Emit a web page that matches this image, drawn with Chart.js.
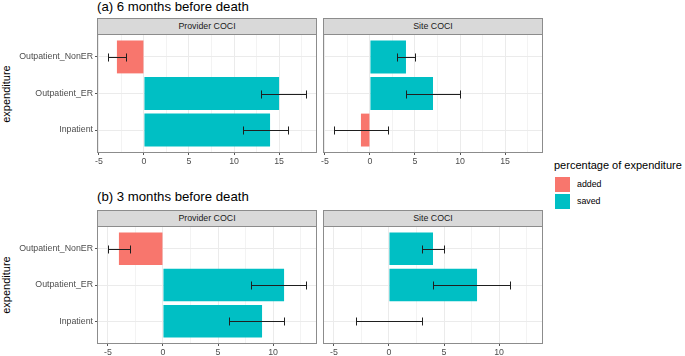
<!DOCTYPE html>
<html><head><meta charset="utf-8">
<script src="https://cdn.jsdelivr.net/npm/chart.js@4/dist/chart.umd.min.js"></script>
<style>
body{margin:0;width:685px;height:356px;position:relative;background:#fff;font-family:"Liberation Sans",Arial,Helvetica,sans-serif;overflow:hidden}
canvas{position:absolute}
.t{position:absolute;white-space:nowrap}
.title{font-size:13.2px;color:#000;line-height:16px}
.strip{position:absolute;background:#D9D9D9;border:1px solid #8c8c8c;box-sizing:border-box;font-size:8.8px;color:#1A1A1A;text-align:center;line-height:15px}
.ytitle{font-size:11px;color:#000;transform:rotate(-90deg);transform-origin:center center;width:80px;text-align:center;line-height:12px}
.key{position:absolute;width:17px;height:17px;box-sizing:border-box;border:1px solid #fff}
.lab{font-size:8.8px;color:#000;line-height:11px}
</style></head>
<body>
<div class="t title" style="left:97px;top:-1px">(a) 6 months before death</div>
<div class="t title" style="left:97px;top:189px">(b) 3 months before death</div>
<div class="strip" style="left:97px;top:18px;width:220px;height:17px">Provider COCI</div>
<div class="strip" style="left:323px;top:18px;width:220px;height:17px">Site COCI</div>
<div class="strip" style="left:97px;top:210px;width:220px;height:17px">Provider COCI</div>
<div class="strip" style="left:323px;top:210px;width:220px;height:17px">Site COCI</div>
<div class="t ytitle" style="left:-34px;top:88px">expenditure</div>
<div class="t ytitle" style="left:-34px;top:279px">expenditure</div>
<div class="t" style="left:554px;top:159px;font-size:11px;color:#000;line-height:13px" id="legTitle"></div>
<div class="key" style="left:554px;top:176px;background:#F8766D"></div>
<div class="key" style="left:554px;top:193px;background:#00BFC4"></div>
<div class="t lab" style="left:577px;top:179px" id="leg0"></div>
<div class="t lab" style="left:577px;top:196px" id="leg1"></div>

<canvas id="c1" width="320" height="137" style="left:0;top:33px;width:320px;height:137px"></canvas>
<canvas id="c2" width="232" height="137" style="left:314px;top:33px;width:232px;height:137px"></canvas>
<canvas id="c3" width="320" height="131" style="left:0;top:225px;width:320px;height:131px"></canvas>
<canvas id="c4" width="232" height="131" style="left:314px;top:225px;width:232px;height:131px"></canvas>

<script>
// ---- data (categories listed bottom to top) ----
const categories = ["Inpatient", "Outpatient_ER", "Outpatient_NonER"];
const catPos = [1, 2, 3];

const a6ProviderValues = [14, 15, -3];
const a6ProviderLower  = [11, 13, -4];
const a6ProviderUpper  = [16, 18, -2];

const a6SiteValues = [-1, 7, 4];
const a6SiteLower  = [-4, 4, 3];
const a6SiteUpper  = [2, 10, 5];

const b3ProviderValues = [9, 11, -4];
const b3ProviderLower  = [6, 8, -5];
const b3ProviderUpper  = [11, 13, -3];

const b3SiteValues = [0, 8, 4];
const b3SiteLower  = [-3, 4, 3];
const b3SiteUpper  = [3, 11, 5];

const xRangeA = [-5.1, 19.1];
const xRangeB = [-5.9, 13.9];
const legendTitle = "percentage of expenditure";
const legendLabels = ["added", "saved"];
const colorAdded = "#F8766D", colorSaved = "#00BFC4";

document.getElementById('legTitle').textContent = legendTitle;
document.getElementById('leg0').textContent = legendLabels[0];
document.getElementById('leg1').textContent = legendLabels[1];

const panelPlugin = {
  id: 'panel',
  afterDatasetsDraw(chart) {
    const {ctx, chartArea: a, scales: {x, y}} = chart;
    const ds = chart.data.datasets[0];
    ctx.save();
    ctx.strokeStyle = '#1f1f1f';
    ctx.lineWidth = 1;
    const half = Math.abs(y.getPixelForValue(1.11) - y.getPixelForValue(1));
    ds.errLo.forEach((lo, i) => {
      const py = Math.round(y.getPixelForValue(ds.data[i].y)) + 0.5;
      const x1 = Math.round(x.getPixelForValue(lo)) + 0.5;
      const x2 = Math.round(x.getPixelForValue(ds.errHi[i])) + 0.5;
      ctx.beginPath();
      ctx.moveTo(x1, py); ctx.lineTo(x2, py);
      ctx.moveTo(x1, py - half); ctx.lineTo(x1, py + half);
      ctx.moveTo(x2, py - half); ctx.lineTo(x2, py + half);
      ctx.stroke();
    });
    ctx.strokeStyle = '#8c8c8c';
    const l = Math.round(a.left), r = Math.round(a.right), t = Math.round(a.top), b = Math.round(a.bottom);
    ctx.strokeRect(l - 0.5, t - 0.5, r - l + 1, b - t + 1);
    ctx.restore();
  }
};

function isMult(v, s) { return Math.abs(v / s - Math.round(v / s)) < 1e-6; }

function makeChart(id, values, lower, upper, xr, showY, pad, xHeight) {
  return new Chart(document.getElementById(id), {
    type: 'bar',
    data: {
      datasets: [{
        data: values.map((v, i) => ({x: v, y: catPos[i]})),
        backgroundColor: values.map(v => v < 0 ? colorAdded : colorSaved),
        borderWidth: 0,
        categoryPercentage: 1,
        barPercentage: 0.9,
        errLo: lower,
        errHi: upper
      }]
    },
    options: {
      indexAxis: 'y',
      responsive: false,
      animation: false,
      devicePixelRatio: 1,
      layout: {padding: pad},
      plugins: {legend: {display: false}, tooltip: {enabled: false}},
      scales: {
        x: {
          type: 'linear', min: xr[0], max: xr[1], offset: false,
          border: {display: false},
          afterBuildTicks: s => { s.ticks = s.ticks.filter(t => isMult(t.value, 2.5)); },
          afterFit: s => { s.height = xHeight; s.paddingLeft = 0; s.paddingRight = 0; },
          ticks: {
            stepSize: 2.5, autoSkip: false, maxRotation: 0, padding: 1, includeBounds: false,
            color: '#4D4D4D', font: {family: '"Liberation Sans", Arial, sans-serif', size: 8.8},
            callback: v => isMult(v, 5) ? String(Math.round(v)) : ''
          },
          grid: {
            offset: false,
            color: c => (c.tick && isMult(c.tick.value, 5)) ? '#EBEBEB' : '#F3F3F3',
            tickColor: c => (c.tick && isMult(c.tick.value, 5)) ? '#555555' : 'rgba(0,0,0,0)',
            tickLength: 3, lineWidth: 1
          }
        },
        y: {
          type: 'linear', min: 0.4, max: 3.6, offset: false,
          border: {display: false},
          afterBuildTicks: s => { s.ticks = catPos.map(p => ({value: p})); },
          afterFit: s => { s.width = showY ? 98 : 0; s.paddingTop = 0; s.paddingBottom = 0; },
          ticks: {
            display: showY, autoSkip: false, padding: 2, includeBounds: false,
            color: '#4D4D4D', font: {family: '"Liberation Sans", Arial, sans-serif', size: 8.8},
            callback: v => categories[Math.round(v) - 1] || ''
          },
          grid: {offset: false, color: '#EBEBEB', tickColor: '#555555', tickLength: 3, drawTicks: showY, lineWidth: 1}
        }
      }
    },
    plugins: [panelPlugin]
  });
}

makeChart('c1', a6ProviderValues, a6ProviderLower, a6ProviderUpper, xRangeA, true, {top: 2, right: 4, left: 0, bottom: 0}, 18);
makeChart('c2', a6SiteValues, a6SiteLower, a6SiteUpper, xRangeA, false, {top: 2, right: 4, left: 10, bottom: 0}, 18);
makeChart('c3', b3ProviderValues, b3ProviderLower, b3ProviderUpper, xRangeB, true, {top: 2, right: 4, left: 0, bottom: 0}, 13);
makeChart('c4', b3SiteValues, b3SiteLower, b3SiteUpper, xRangeB, false, {top: 2, right: 4, left: 10, bottom: 0}, 13);
</script>
</body></html>
